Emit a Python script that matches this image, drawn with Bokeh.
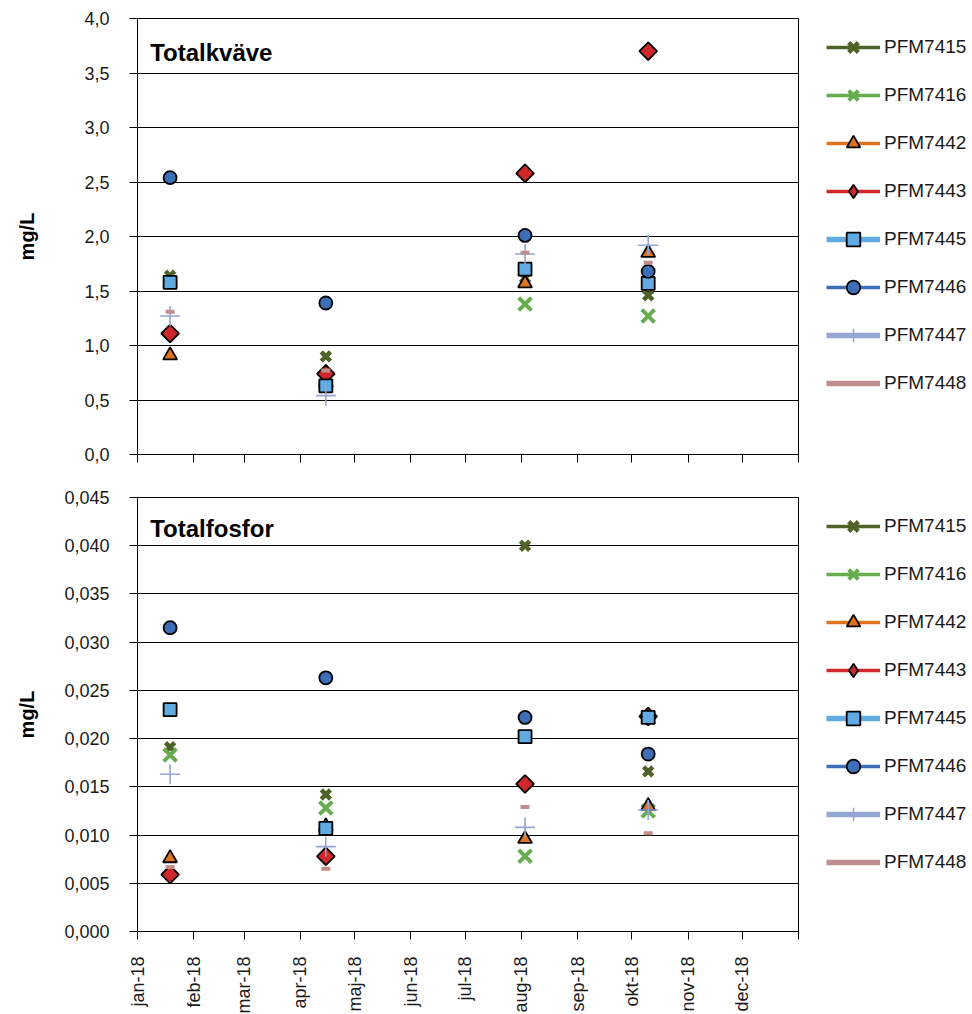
import math
import pandas as pd
from bokeh.plotting import figure
from bokeh.models import (ColumnDataSource, FixedTicker, CustomJSTickFormatter,
                          Legend, LegendItem, Label, Range1d)
from bokeh.layouts import column
from bokeh.embed import file_html
from bokeh.resources import INLINE

# ---------------- data ----------------
sample_dates = ["2018-01-19", "2018-04-15", "2018-08-03", "2018-10-10"]
stations = ["PFM7415", "PFM7416", "PFM7442", "PFM7443",
            "PFM7445", "PFM7446", "PFM7447", "PFM7448"]
month_labels = ["jan-18", "feb-18", "mar-18", "apr-18", "maj-18", "jun-18",
                "jul-18", "aug-18", "sep-18", "okt-18", "nov-18", "dec-18", ""]

# Totalkväve (mg/L)
totn_7415 = [1.64, 0.90, 1.62, 1.46]
totn_7416 = [1.58, 0.69, 1.38, 1.27]
totn_7442 = [0.91, 0.66, 1.57, 1.85]
totn_7443 = [1.11, 0.74, 2.58, 3.70]
totn_7445 = [1.58, 0.63, 1.70, 1.57]
totn_7446 = [2.54, 1.39, 2.01, 1.68]
totn_7447 = [1.27, 0.54, 1.84, 1.92]
totn_7448 = [1.31, 0.77, 1.85, 1.76]

# Totalfosfor (mg/L)
totp_7415 = [0.0191, 0.0142, 0.0400, 0.0166]
totp_7416 = [0.0183, 0.0128, 0.0078, 0.0125]
totp_7442 = [0.0076, 0.0109, 0.0096, 0.0130]
totp_7443 = [0.0059, 0.0078, 0.0153, 0.0223]
totp_7445 = [0.0230, 0.0107, 0.0202, 0.0222]
totp_7446 = [0.0315, 0.0263, 0.0222, 0.0184]
totp_7447 = [0.0163, 0.0088, 0.0108, 0.0126]
totp_7448 = [0.0067, 0.0065, 0.0129, 0.0102]

totn = [totn_7415, totn_7416, totn_7442, totn_7443, totn_7445, totn_7446, totn_7447, totn_7448]
totp = [totp_7415, totp_7416, totp_7442, totp_7443, totp_7445, totp_7446, totp_7447, totp_7448]

# ---------------- styles ----------------
FONT = "Liberation Sans"
styles = {
    "PFM7415": dict(marker="x", color="#4F6228", size=13, lw=4.5, fill=None, leg_lw=3.5),
    "PFM7416": dict(marker="x", color="#68AC50", size=18, lw=4.0, fill=None, leg_lw=3.5),
    "PFM7442": dict(marker="triangle", color="#E0731E", size=14, lw=1.8, fill="#E0731E", leg_lw=3.5),
    "PFM7443": dict(marker="square", color="#D0282A", size=12.5, lw=1.8, fill="#D0282A", leg_lw=3.5,
                    angle=math.pi / 4, leg_marker="diamond"),
    "PFM7445": dict(marker="square", color="#62AAE2", size=13, lw=1.8, fill="#62AAE2", leg_lw=5.5),
    "PFM7446": dict(marker="circle", color="#3D6EB8", size=13, lw=1.8, fill="#3D6EB8", leg_lw=3.5),
    "PFM7447": dict(marker="cross", color="#94A6D3", size=20, lw=1.6, fill=None, leg_lw=5.5),
    "PFM7448": dict(marker="dash", color="#C08E8C", size=9, lw=4.0, fill=None, leg_lw=5.5),
}

start = pd.Timestamp("2018-01-01")
x_days = [(pd.Timestamp(d) - start).days for d in sample_dates]
month_starts = pd.date_range("2018-01-01", "2019-01-01", freq="MS")
month_ticks = [int((m - start).days) for m in month_starts]
x_end = month_ticks[-1]
nan = float("nan")


def make_panel(title, series, y_max, y_step, decimals, frame_h, top_border,
               bottom_border, show_x_labels, y_label_standoff, title_y):
    p = figure(frame_width=661, frame_height=frame_h,
               min_border_left=137, min_border_right=174,
               min_border_top=top_border, min_border_bottom=bottom_border,
               x_range=Range1d(0, x_end), y_range=Range1d(0, y_max),
               output_backend="svg", toolbar_location=None,
               background_fill_color="white", border_fill_color="white")
    p.outline_line_color = "black"
    p.outline_line_width = 1

    n_ticks = int(round(y_max / y_step))
    yt = [round(i * y_step, 6) for i in range(n_ticks + 1)]
    p.yaxis.ticker = FixedTicker(ticks=yt)
    p.yaxis.formatter = CustomJSTickFormatter(
        code=f"return tick.toFixed({decimals}).replace('.', ',');")
    p.yaxis.axis_label = "mg/L"
    p.yaxis.axis_label_text_font = FONT
    p.yaxis.axis_label_text_font_style = "bold"
    p.yaxis.axis_label_text_font_size = "20px"
    p.yaxis.axis_label_text_color = "black"
    p.yaxis.axis_label_standoff = y_label_standoff
    p.yaxis.major_label_text_font = FONT
    p.yaxis.major_label_text_font_size = "18px"
    p.yaxis.major_label_text_color = "#1a1a1a"
    p.yaxis.major_label_standoff = 20
    p.yaxis.major_tick_out = 8
    p.yaxis.major_tick_in = 0
    p.yaxis.minor_tick_out = 0
    p.yaxis.minor_tick_in = 0
    p.yaxis.axis_line_color = "black"
    p.yaxis.major_tick_line_color = "black"

    p.xaxis.ticker = FixedTicker(ticks=month_ticks)
    p.xaxis.major_tick_out = 8
    p.xaxis.major_tick_in = 0
    p.xaxis.minor_tick_out = 0
    p.xaxis.minor_tick_in = 0
    p.xaxis.axis_line_color = "black"
    p.xaxis.major_tick_line_color = "black"
    if show_x_labels:
        p.xaxis.major_label_overrides = {t: l for t, l in zip(month_ticks, month_labels)}
        p.xaxis.major_label_orientation = math.pi / 2
        p.xaxis.major_label_text_font = FONT
        p.xaxis.major_label_text_font_size = "18px"
        p.xaxis.major_label_text_color = "#1a1a1a"
        p.xaxis.major_label_standoff = 17
    else:
        p.xaxis.formatter = CustomJSTickFormatter(code="return '';")
        p.xaxis.major_label_text_font_size = "1px"
        p.xaxis.major_label_standoff = 0

    p.xgrid.grid_line_color = None
    p.ygrid.grid_line_color = "black"
    p.ygrid.grid_line_width = 1

    items = []
    for name, vals in zip(stations, series):
        st = styles[name]
        src = ColumnDataSource(dict(x=x_days, y=vals))
        hidden = ColumnDataSource(dict(x=x_days, y=[nan] * len(x_days)))
        # line is only shown in the legend (the chart has markers only)
        line_r = p.line(x="x", y="y", source=hidden,
                        line_color=st["color"], line_width=st["leg_lw"])
        kw = dict(size=st["size"], line_width=st["lw"])
        if st["fill"] is None:
            kw.update(line_color=st["color"], fill_color=None)
        else:
            kw.update(line_color="black", fill_color=st["fill"])
        sc_r = p.scatter(x="x", y="y", source=src, marker=st["marker"],
                         angle=st.get("angle", 0), **kw)
        if "leg_marker" in st:
            leg_r = p.scatter(x="x", y="y", source=hidden, marker=st["leg_marker"], **kw)
            items.append(LegendItem(label=name, renderers=[line_r, leg_r]))
        else:
            items.append(LegendItem(label=name, renderers=[line_r, sc_r]))

    glyph_h, spacing = 34, 14
    leg_h = len(items) * glyph_h + (len(items) - 1) * spacing
    legend = Legend(items=items, location=(28, frame_h - 12 - leg_h),
                    glyph_width=54, glyph_height=glyph_h, label_height=20,
                    spacing=spacing, padding=0, margin=0, label_standoff=4,
                    border_line_color=None, background_fill_alpha=0,
                    label_text_font=FONT, label_text_font_size="19px",
                    label_text_color="#1a1a1a")
    p.add_layout(legend, "right")

    p.add_layout(Label(x=7, y=title_y, x_units="data", y_units="data", text=title,
                       text_font=FONT, text_font_style="bold",
                       text_font_size="24px", text_color="black",
                       text_baseline="alphabetic", text_align="left"))
    return p


p1 = make_panel("Totalkväve", totn, 4.0, 0.5, 1, 436, 18, 23, False, 43, 3.69)
p2 = make_panel("Totalfosfor", totp, 0.045, 0.005, 3, 434, 20, 82, True, 23, 0.0418)

layout = column(p1, p2, spacing=0)
open("out.html", "w").write(file_html(layout, INLINE))
